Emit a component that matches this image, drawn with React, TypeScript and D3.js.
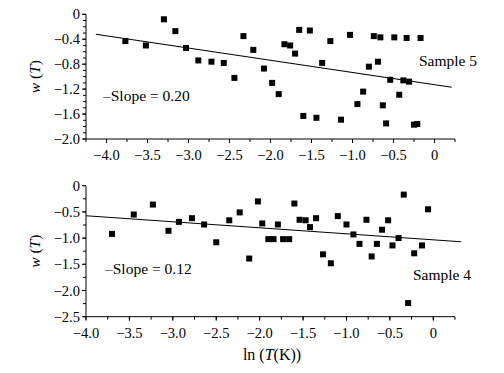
import React from "react";
import * as d3 from "d3";

const topX = [-3.77, -3.52, -3.30, -3.16, -3.03, -2.88, -2.72, -2.57, -2.44, -2.33, -2.21, -2.08, -1.98, -1.90, -1.83, -1.76, -1.70, -1.65, -1.60, -1.52, -1.44, -1.37, -1.27, -1.14, -1.03, -0.94, -0.87, -0.80, -0.74, -0.69, -0.66, -0.63, -0.59, -0.54, -0.49, -0.43, -0.38, -0.34, -0.31, -0.25, -0.21, -0.17];
const topY = [-0.43, -0.50, -0.08, -0.27, -0.54, -0.74, -0.76, -0.78, -1.02, -0.35, -0.57, -0.87, -1.10, -1.28, -0.48, -0.50, -0.63, -0.25, -1.63, -0.26, -1.66, -0.78, -0.43, -1.69, -0.33, -1.44, -1.24, -0.84, -0.35, -0.76, -0.37, -1.46, -1.75, -1.05, -0.37, -1.29, -1.06, -0.38, -1.08, -1.77, -1.76, -0.38];

const botX = [-3.70, -3.45, -3.23, -3.05, -2.93, -2.78, -2.64, -2.50, -2.35, -2.23, -2.12, -2.02, -1.97, -1.90, -1.84, -1.79, -1.73, -1.66, -1.60, -1.54, -1.47, -1.42, -1.35, -1.27, -1.18, -1.10, -1.00, -0.92, -0.85, -0.77, -0.71, -0.65, -0.59, -0.52, -0.47, -0.40, -0.34, -0.29, -0.22, -0.13, -0.06];
const botY = [-0.92, -0.55, -0.36, -0.86, -0.69, -0.62, -0.74, -1.08, -0.66, -0.51, -1.39, -0.30, -0.72, -1.02, -1.02, -0.74, -1.02, -1.02, -0.34, -0.65, -0.66, -0.79, -0.62, -1.31, -1.48, -0.58, -0.74, -0.93, -1.11, -0.65, -1.35, -1.11, -0.84, -0.66, -1.14, -1.00, -0.17, -2.24, -1.29, -1.14, -0.45];

const topLine = { x: [-4.13, 0.21], y: [-0.32, -1.17] };
const botLine = { x: [-4.0, 0.32], y: [-0.573, -1.07] };

const topYTicks = [0, -0.4, -0.8, -1.2, -1.6, -2.0];
const topYLabels = ["0", "\u22120.4", "\u22120.8", "\u22121.2", "\u22121.6", "\u22122.0"];
const botYTicks = [0, -0.5, -1.0, -1.5, -2.0, -2.5];
const botYLabels = ["0", "\u22120.5", "\u22121.0", "\u22121.5", "\u22122.0", "\u22122.5"];
const xTicks = [-4.0, -3.5, -3.0, -2.5, -2.0, -1.5, -1.0, -0.5, 0];
const xLabels = ["\u22124.0", "\u22123.5", "\u22123.0", "\u22122.5", "\u22122.0", "\u22121.5", "\u22121.0", "\u22120.5", "0"];

const FONT = "'Liberation Serif', 'Times New Roman', serif";

type PanelProps = {
  xs: number[]; ys: number[];
  xDomain: [number, number]; yDomain: [number, number];
  yRange: [number, number];
  yTicks: number[]; yLabels: string[]; yMinorStep: number;
  line: { x: number[]; y: number[] };
  slopeText: string; slopePos: [number, number];
  sampleText: string; samplePos: [number, number];
};

function Panel(p: PanelProps) {
  const x = d3.scaleLinear().domain(p.xDomain).range([86, 455]);
  const y = d3.scaleLinear().domain(p.yDomain).range(p.yRange);
  const y0 = p.yRange[0];
  const yTop = p.yRange[1];
  const xMinor = d3.range(Math.ceil(p.xDomain[0] / 0.25 - 1e-6), Math.floor(p.xDomain[1] / 0.25 + 1e-6) + 1).map((k) => k * 0.25);
  const nMinorY = Math.round((p.yDomain[1] - p.yDomain[0]) / p.yMinorStep);
  const yMinor = d3.range(0, nMinorY + 1).map((k) => p.yDomain[0] + k * p.yMinorStep);
  const lineGen = d3.line<number>().x((_, i) => x(p.line.x[i])).y((d) => y(d));
  const s = 6;
  return (
    <g>
      <line x1={86} x2={455} y1={y0} y2={y0} stroke="#000" strokeWidth={1} />
      <line x1={86} x2={86} y1={yTop} y2={y0} stroke="#000" strokeWidth={1} />
      {xMinor.map((t, i) => (
        <line key={"xm" + i} x1={x(t)} x2={x(t)} y1={y0} y2={y0 + 3} stroke="#000" />
      ))}
      {xTicks.filter((t) => t >= p.xDomain[0] - 1e-6).map((t, i) => (
        <g key={"xt" + i}>
          <line x1={x(t)} x2={x(t)} y1={y0} y2={y0 + 4} stroke="#000" />
          <text x={x(t)} y={y0 + 21} textAnchor="middle" fontSize={14.5} fontFamily={FONT}>
            {xLabels[xTicks.indexOf(t)]}
          </text>
        </g>
      ))}
      {yMinor.map((t, i) => (
        <line key={"ym" + i} x1={83} x2={86} y1={y(t)} y2={y(t)} stroke="#000" />
      ))}
      {p.yTicks.map((t, i) => (
        <g key={"yt" + i}>
          <line x1={82} x2={86} y1={y(t)} y2={y(t)} stroke="#000" />
          <text x={80} y={y(t) + 5} textAnchor="end" fontSize={14.5} fontFamily={FONT}>
            {p.yLabels[i]}
          </text>
        </g>
      ))}
      <path d={lineGen(p.line.y) || ""} fill="none" stroke="#000" strokeWidth={1.2} />
      {p.xs.map((d, i) => (
        <rect key={"pt" + i} x={x(d) - s / 2} y={y(p.ys[i]) - s / 2} width={s} height={s} fill="#000" />
      ))}
      <text x={p.slopePos[0]} y={p.slopePos[1]} fontSize={15.5} fontFamily={FONT}>{p.slopeText}</text>
      <text x={p.samplePos[0]} y={p.samplePos[1]} fontSize={15.5} fontFamily={FONT}>{p.sampleText}</text>
      <text
        transform={`translate(40,${(p.yRange[0] + p.yRange[1]) / 2}) rotate(-90)`}
        textAnchor="middle"
        fontSize={15.5}
        fontFamily={FONT}
      >
        <tspan fontStyle="italic">w</tspan> (<tspan fontStyle="italic">T</tspan>)
      </text>
    </g>
  );
}

export default function App() {
  return (
    <svg width={504} height={373} style={{ position: "absolute", left: 0, top: 0, background: "#fff" }}>
      <rect width={504} height={373} fill="#fff" />
      <Panel
        xs={topX} ys={topY}
        xDomain={[-4.25, 0.25]} yDomain={[-2.0, 0]} yRange={[139, 14.3]}
        yTicks={topYTicks} yLabels={topYLabels} yMinorStep={0.1}
        line={topLine}
        slopeText={"\u2013Slope = 0.20"} slopePos={[103, 101]}
        sampleText="Sample 5" samplePos={[419, 66]}
      />
      <Panel
        xs={botX} ys={botY}
        xDomain={[-4.0, 0.25]} yDomain={[-2.5, 0]} yRange={[316.7, 185.7]}
        yTicks={botYTicks} yLabels={botYLabels} yMinorStep={0.25}
        line={botLine}
        slopeText={"\u2013Slope = 0.12"} slopePos={[105, 274]}
        sampleText="Sample 4" samplePos={[413, 280]}
      />
      <text x={272} y={360} textAnchor="middle" fontSize={16} fontFamily={FONT}>
        ln (<tspan fontStyle="italic">T</tspan>(K))
      </text>
    </svg>
  );
}
